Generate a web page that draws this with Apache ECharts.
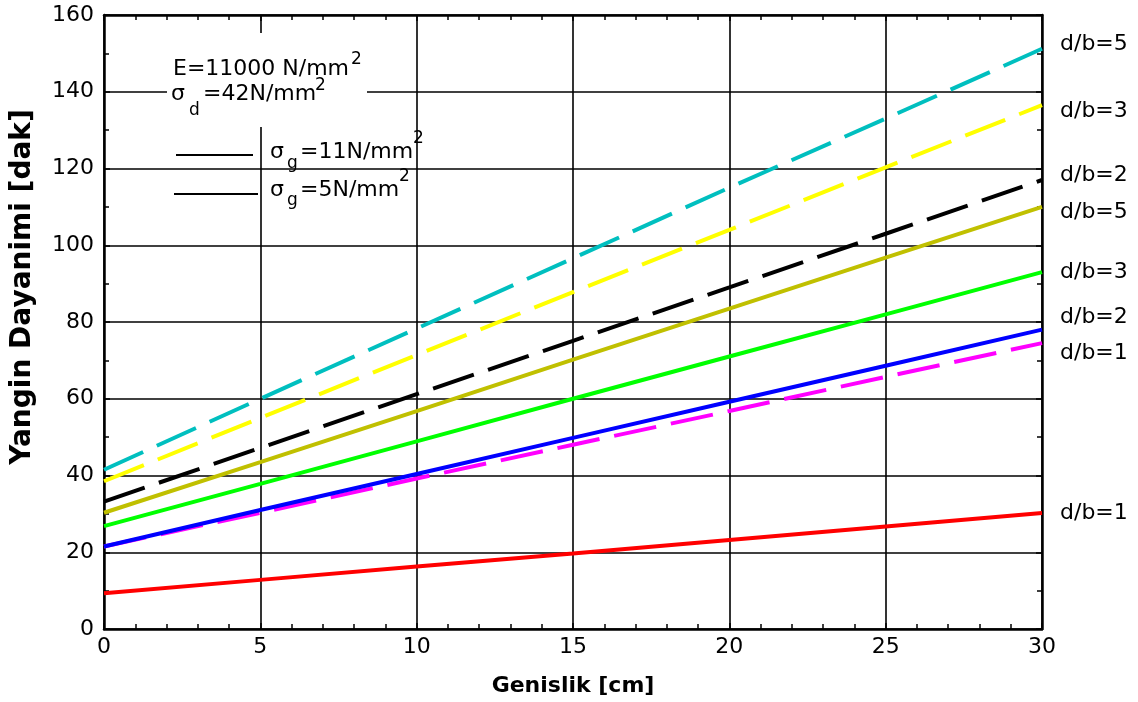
<!DOCTYPE html>
<html><head><meta charset="utf-8">
<script src="https://cdn.jsdelivr.net/npm/echarts@6/dist/echarts.min.js"></script>
<style>html,body{margin:0;padding:0;background:#fff}#c{width:1138px;height:702px}</style>
</head><body><div id="c"></div>
<script>
// ---- data ----
const xValues = [0, 5, 10, 15, 20, 25, 30];
const cyanDb5Dashed   = [41.5, 60.0, 78.3, 96.6, 115.0, 133.0, 151.2];
const yellowDb3Dashed = [38.5, 55.0, 71.4, 87.8, 104.0, 120.3, 136.5];
const blackDb2Dashed  = [33.2, 47.2, 61.2, 75.1, 89.0, 103.0, 117.0];
const oliveDb5Solid   = [30.3, 43.5, 56.8, 70.2, 83.5, 96.8, 110.0];
const greenDb3Solid   = [26.8, 37.8, 48.9, 60.0, 71.0, 82.0, 93.0];
const blueDb2Solid    = [21.5, 31.0, 40.4, 49.8, 59.2, 68.6, 78.0];
const magentaDb1Dashed= [21.5, 30.3, 39.2, 48.0, 56.8, 65.7, 74.5];
const redDb1Solid     = [9.3, 12.8, 16.3, 19.7, 23.2, 26.7, 30.2];
const xTicks = [0, 5, 10, 15, 20, 25, 30];
const yTicks = [0, 20, 40, 60, 80, 100, 120, 140, 160];
const xTitle = 'Genislik [cm]';
const yTitle = 'Yangin Dayanimi [dak]';

// ---- styles ----
const FONT = 'DejaVu Sans';
const DASH = [43, 15];
const seriesDefs = [
  {data: redDb1Solid,      color: '#ff0000', dash: false, label: 'd/b=1', dy: 0},
  {data: magentaDb1Dashed, color: '#ff00ff', dash: true,  label: 'd/b=1', dy: 10},
  {data: blueDb2Solid,     color: '#0000ff', dash: false, label: 'd/b=2', dy: -12},
  {data: greenDb3Solid,    color: '#00ff00', dash: false, label: 'd/b=3', dy: 0},
  {data: oliveDb5Solid,    color: '#c0c000', dash: false, label: 'd/b=5', dy: 5},
  {data: blackDb2Dashed,   color: '#000000', dash: true,  label: 'd/b=2', dy: -5},
  {data: yellowDb3Dashed,  color: '#ffff00', dash: true,  label: 'd/b=3', dy: 6},
  {data: cyanDb5Dashed,    color: '#00bfbf', dash: true,  label: 'd/b=5', dy: -4}
];

const chart = echarts.init(document.getElementById('c'), null, {renderer: 'canvas'});

function axisCommon(min, max, interval, minorSplit) {
  return {
    type: 'value', min, max, interval,
    axisLine: {show: true, onZero: false, lineStyle: {color: '#000', width: 2.5}},
    axisTick: {show: true, inside: true, length: 6, lineStyle: {color: '#000', width: 1.5}},
    minorTick: {show: true, splitNumber: minorSplit, length: 5, lineStyle: {color: '#000', width: 1.5}},
    minorSplitLine: {show: false}
  };
}

const xAxisMain = Object.assign(axisCommon(0, 30, 5, 5), {
  position: 'bottom',
  axisLabel: {color: '#000', fontFamily: FONT, fontSize: 22, margin: 7,
    formatter: v => xTicks.includes(v) ? String(v) : ''},
  splitLine: {show: true, lineStyle: {color: '#000', width: 1.6}},
  name: xTitle, nameLocation: 'middle', nameGap: 46,
  nameTextStyle: {color: '#000', fontFamily: FONT, fontWeight: 'bold', fontSize: 22}
});
const xAxisTop = Object.assign(axisCommon(0, 30, 5, 5), {
  position: 'top', axisLabel: {show: false}, splitLine: {show: false}
});
const yAxisMain = Object.assign(axisCommon(0, 160, 20, 2), {
  position: 'left',
  axisLabel: {color: '#000', fontFamily: FONT, fontSize: 22, margin: 10,
    formatter: v => yTicks.includes(v) ? String(v) : ''},
  splitLine: {show: true, lineStyle: {color: '#000', width: 1.6}}
});
const yAxisRight = Object.assign(axisCommon(0, 160, 20, 2), {
  position: 'right', axisLabel: {show: false}, splitLine: {show: false}
});

const series = seriesDefs.map(d => ({
  type: 'line',
  xAxisIndex: 0, yAxisIndex: 0,
  data: xValues.map((x, i) => [x, d.data[i]]),
  showSymbol: false, symbol: 'none', smooth: false,
  lineStyle: {color: d.color, width: 4, type: d.dash ? DASH : 'solid', cap: 'butt'},
  itemStyle: {color: d.color},
  endLabel: {show: true, formatter: () => d.label, color: '#000', fontFamily: FONT,
    fontSize: 22, distance: 0, offset: [18, d.dy]},
  emphasis: {disabled: true},
  silent: true
}));

function t(x, y, s, size, extra) {
  return Object.assign({type: 'text', z: 101,
    style: {x: x, y: y, text: s, fill: '#000', font: size + 'px "' + FONT + '"', textVerticalAlign: 'middle'}}, extra || {});
}
const graphic = [
  {type: 'rect', left: 167, top: 33, z: 100, shape: {width: 200, height: 94}, style: {fill: '#fff'}},
  t(173, 69, 'E=11000 N/mm', 22), t(351, 60, '2', 17),
  t(171, 94, 'σ', 22), t(189, 111, 'd', 17), t(203, 94, '=42N/mm', 22), t(315, 86, '2', 17),
  {type: 'line', z: 101, shape: {x1: 176, y1: 155, x2: 253, y2: 155}, style: {stroke: '#000', lineWidth: 2}},
  {type: 'line', z: 101, shape: {x1: 174, y1: 194, x2: 258, y2: 194}, style: {stroke: '#000', lineWidth: 2}},
  t(270, 152, 'σ', 22), t(287, 164, 'g', 17), t(300, 152, '=11N/mm', 22), t(413, 139, '2', 17),
  t(270, 190, 'σ', 22), t(287, 201, 'g', 17), t(300, 190, '=5N/mm', 22), t(399, 177, '2', 17),
  {type: 'text', z: 101, x: 23, y: 287, rotation: Math.PI / 2,
    style: {x: 0, y: 0, text: yTitle, fill: '#000', font: 'bold 28px "' + FONT + '"',
      textAlign: 'center', textVerticalAlign: 'middle'}}
];

chart.setOption({
  animation: false,
  backgroundColor: '#fff',
  grid: {left: 104, right: 96, top: 15, bottom: 72, containLabel: false},
  xAxis: [xAxisMain, xAxisTop],
  yAxis: [yAxisMain, yAxisRight],
  series: series,
  graphic: graphic
});
</script></body></html>
